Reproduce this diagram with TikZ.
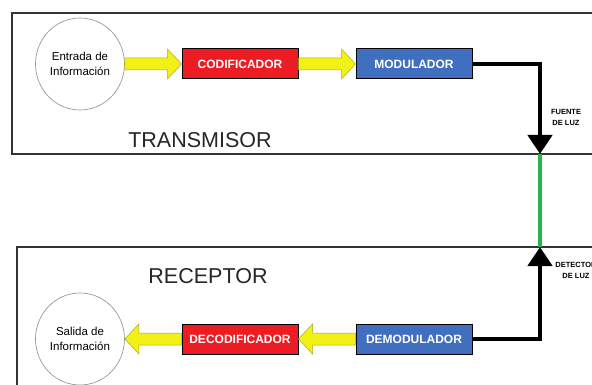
\documentclass[tikz,border=0pt]{standalone}
\usepackage{fontspec}
\setmainfont{Liberation Sans}
\usetikzlibrary{arrows.meta,calc,shapes.geometric}
\definecolor{cred}{RGB}{237,28,36}
\definecolor{cblue}{RGB}{63,111,190}
\definecolor{cyel}{RGB}{242,240,20}
\definecolor{cyeld}{RGB}{170,170,40}
\definecolor{cgreen}{RGB}{40,180,75}
\newcommand\yarrowpath[2]{%
  \filldraw[yarrow] let \p1=(#1), \p2=(#2), \n1={ifthenelse(\x2>\x1,1,-1)}, \n2={\x2-\n1*14pt} in
  (\x1,{\y1+6pt}) -- (\n2,{\y1+6pt}) -- (\n2,{\y1+15pt}) -- (\x2,\y1)
  -- (\n2,{\y1-15pt}) -- (\n2,{\y1-6pt}) -- (\x1,{\y1-6pt}) -- cycle;}
\begin{document}
\begin{tikzpicture}[x=1pt,y=-1pt,
  frame/.style={draw=black!80, line width=1.2pt},
  infocircle/.style={ellipse, draw=black!45, line width=0.6pt, minimum width=89pt, minimum height=92pt, align=center, font=\fontsize{11.5}{14.5}\selectfont, inner sep=0pt},
  blk/.style={draw=black, line width=1pt, minimum width=116pt, minimum height=30pt, text=white, font=\bfseries\fontsize{12}{14}\selectfont, inner sep=0pt},
  redblk/.style={blk, fill=cred},
  blueblk/.style={blk, fill=cblue},
  titletext/.style={font=\fontsize{21.5}{24}\selectfont, text=black!85},
  smalllabel/.style={font=\bfseries\fontsize{7.5}{11}\selectfont, align=center, inner sep=0pt},
  link/.style={line width=4.5pt, -{Triangle[width=24pt,length=19pt]}},
  yarrow/.style={fill=cyel, draw=cyeld, line width=0.5pt}]
\useasboundingbox (0,0) rectangle (592,385);
\clip (0,0) rectangle (592,385);
\fill[white] (0,0) rectangle (592,385);
% frames
\draw[frame] (12,13) rectangle (620,154);
\draw[frame] (17,247) rectangle (620,400);
% nodes
\node[infocircle] (in) at (80,64) {Entrada de\\Información};
\node[redblk] (cod) at (240,64) {CODIFICADOR};
\node[blueblk] (mod) at (414,64) {MODULADOR};
\node[infocircle] (out) at (80,339) {Salida de\\Información};
\node[redblk] (dec) at (240,339) {DECODIFICADOR};
\node[blueblk] (dem) at (414,339) {DEMODULADOR};
\node[titletext] (tx) at (200,140) {TRANSMISOR};
\node[titletext] (rx) at (208,276) {RECEPTOR};
\node[smalllabel] (fl) at (566,117) {FUENTE\\DE LUZ};
\node[smalllabel] (dl) at (576,270) {DETECTOR\\DE LUZ};
\coordinate (src) at (540,154);
\coordinate (det) at (540,247);
% yellow arrows
\yarrowpath{in.east}{cod.west}
\yarrowpath{cod.east}{mod.west}
\yarrowpath{dem.west}{dec.east}
\yarrowpath{dec.west}{out.east}
% fibre
\draw[cgreen, line width=3.5pt] (src) -- (det);
% black links
\draw[link] (mod.east) -| (src);
\draw[link] (dem.east) -| (det);
\end{tikzpicture}
\end{document}
